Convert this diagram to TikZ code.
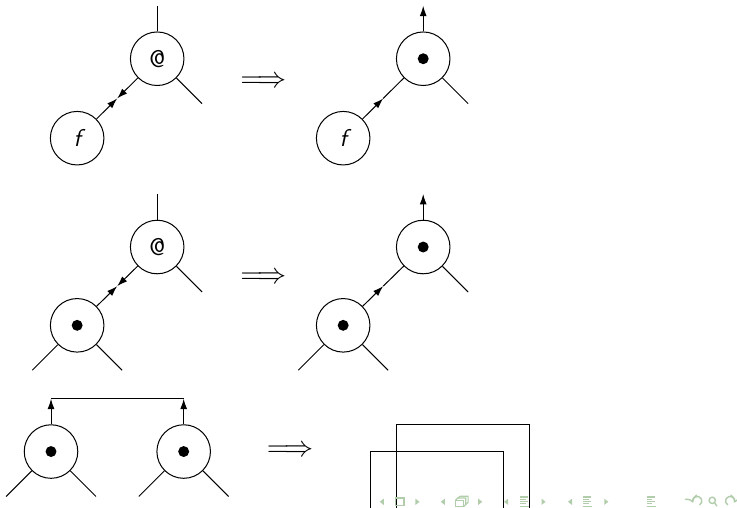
\documentclass[tikz,border=0pt]{standalone}
\usepackage{amsmath,amssymb}
\usepackage{tikz}
\usetikzlibrary{arrows.meta}
\definecolor{nav-green}{RGB}{178,205,172}

\begin{document}
\begin{tikzpicture}
[
  vertex/.style={circle,draw,line width=0.5pt,minimum size=0.93cm,inner sep=0pt,font=\large\sffamily},
  link/.style={line width=0.5pt,-{Latex[length=1.8mm,width=1.2mm]}},
  wire/.style={line width=0.5pt},
  nav/.style={fill=nav-green,draw=none},
]
\useasboundingbox (0,0) rectangle (12.8,8.82);

% f applied: both ends point to the middle
\node[vertex] (app1) at (2.73,7.80){@};
\node[vertex] (f1) at (1.34,6.42){\itshape f};
\path (f1) -- coordinate[midway] (m1) (app1);
\draw[link] (f1) -- (m1);
\draw[link] (app1) -- (m1);
\draw[wire] (app1) -- +(0,0.92);
\draw[wire] (app1) -- +(0.78,-0.78);
\node[font=\Large] (imp1) at (4.58,7.40){$\Longrightarrow$};

\node[vertex] (dot1) at (7.35,7.80){};
\fill (dot1) circle (0.095);
\node[vertex] (f2) at (5.96,6.42){\itshape f};
\path (f2) -- coordinate[midway] (m2) (dot1);
\draw[link] (f2) -- (m2);
\draw[wire] (m2) -- (dot1);
\draw[link] (dot1) -- +(0,0.92);
\draw[wire] (dot1) -- +(0.78,-0.78);

% application of a dot node
\node[vertex] (app2) at (2.73,4.53){@};
\node[vertex] (dot2) at (1.34,3.17){};
\fill (dot2) circle (0.095);
\path (dot2) -- coordinate[midway] (m3) (app2);
\draw[link] (dot2) -- (m3);
\draw[link] (app2) -- (m3);
\draw[wire] (app2) -- +(0,0.92);
\draw[wire] (app2) -- +(0.78,-0.78);
\draw[wire] (dot2) -- +(-0.78,-0.78);
\draw[wire] (dot2) -- +(0.78,-0.78);
\node[font=\Large] (imp2) at (4.58,3.99){$\Longrightarrow$};

\node[vertex] (dot3) at (7.35,4.53){};
\fill (dot3) circle (0.095);
\node[vertex] (dot4) at (5.96,3.17){};
\fill (dot4) circle (0.095);
\path (dot4) -- coordinate[midway] (m4) (dot3);
\draw[link] (dot4) -- (m4);
\draw[wire] (m4) -- (dot3);
\draw[link] (dot3) -- +(0,0.92);
\draw[wire] (dot3) -- +(0.78,-0.78);
\draw[wire] (dot4) -- +(-0.78,-0.78);
\draw[wire] (dot4) -- +(0.78,-0.78);

% two dots joined at the top
\node[vertex] (dot5) at (0.886,0.978){};
\fill (dot5) circle (0.095);
\node[vertex] (dot6) at (3.19,0.978){};
\fill (dot6) circle (0.095);
\coordinate (t5) at (0.886,1.895);
\coordinate (t6) at (3.19,1.895);
\draw[link] (dot5) -- (t5);
\draw[link] (dot6) -- (t6);
\draw[wire] (t5) -- (t6);
\foreach \n in {dot5,dot6}{
    \draw[wire] (\n) -- +(-0.78,-0.78);
    \draw[wire] (\n) -- +(0.78,-0.78);
}
\node[font=\Large] (imp3) at (5.04,0.985){$\Longrightarrow$};

\draw[wire] (6.43,0) -- (6.43,0.978) -- (8.74,0.978) -- (8.74,0);
\draw[wire] (6.89,0) -- (6.89,1.44) -- (9.19,1.44) -- (9.19,0);

% navigation symbols
\foreach \x in {6.63,7.69,8.79,9.90}
    \fill[nav] (\x+0.035,0.05) -- (\x+0.035,0.16) -- (\x-0.035,0.105) -- cycle;
\foreach \x in {7.25,8.34,9.44,10.53}
    \fill[nav] (\x-0.035,0.05) -- (\x-0.035,0.16) -- (\x+0.035,0.105) -- cycle;
\draw[nav-green,line width=0.8pt] (6.87,0.04) rectangle (7.02,0.17);
\draw[nav-green,line width=0.6pt] (7.91,0.02) rectangle (8.05,0.13);
\draw[nav-green,line width=0.6pt] (7.91,0.13) -- (7.95,0.17) -- (8.09,0.17) -- (8.09,0.06) -- (8.05,0.02);
\draw[nav-green,line width=0.6pt] (7.95,0.17) -- (7.99,0.20) -- (8.13,0.20) -- (8.13,0.10) -- (8.09,0.06);
\foreach \x in {9.11,10.21,11.31}{
    \foreach \y/\w in {0.19/0.14,0.15/0.10,0.11/0.14,0.07/0.10,0.03/0.16}
        \draw[nav-green,line width=0.6pt] (\x-0.08,\y) -- (\x-0.08+\w,\y);
}
\draw[nav-green,line width=0.7pt,->] (12.15,0.05) arc (-60:200:0.08);
\draw[nav-green,line width=0.7pt] (12.37,0.13) circle (0.055) (12.41,0.09) -- (12.45,0.03);
\draw[nav-green,line width=0.7pt,->] (12.64,0.05) arc (240:-20:0.08);
\end{tikzpicture}
\end{document}
